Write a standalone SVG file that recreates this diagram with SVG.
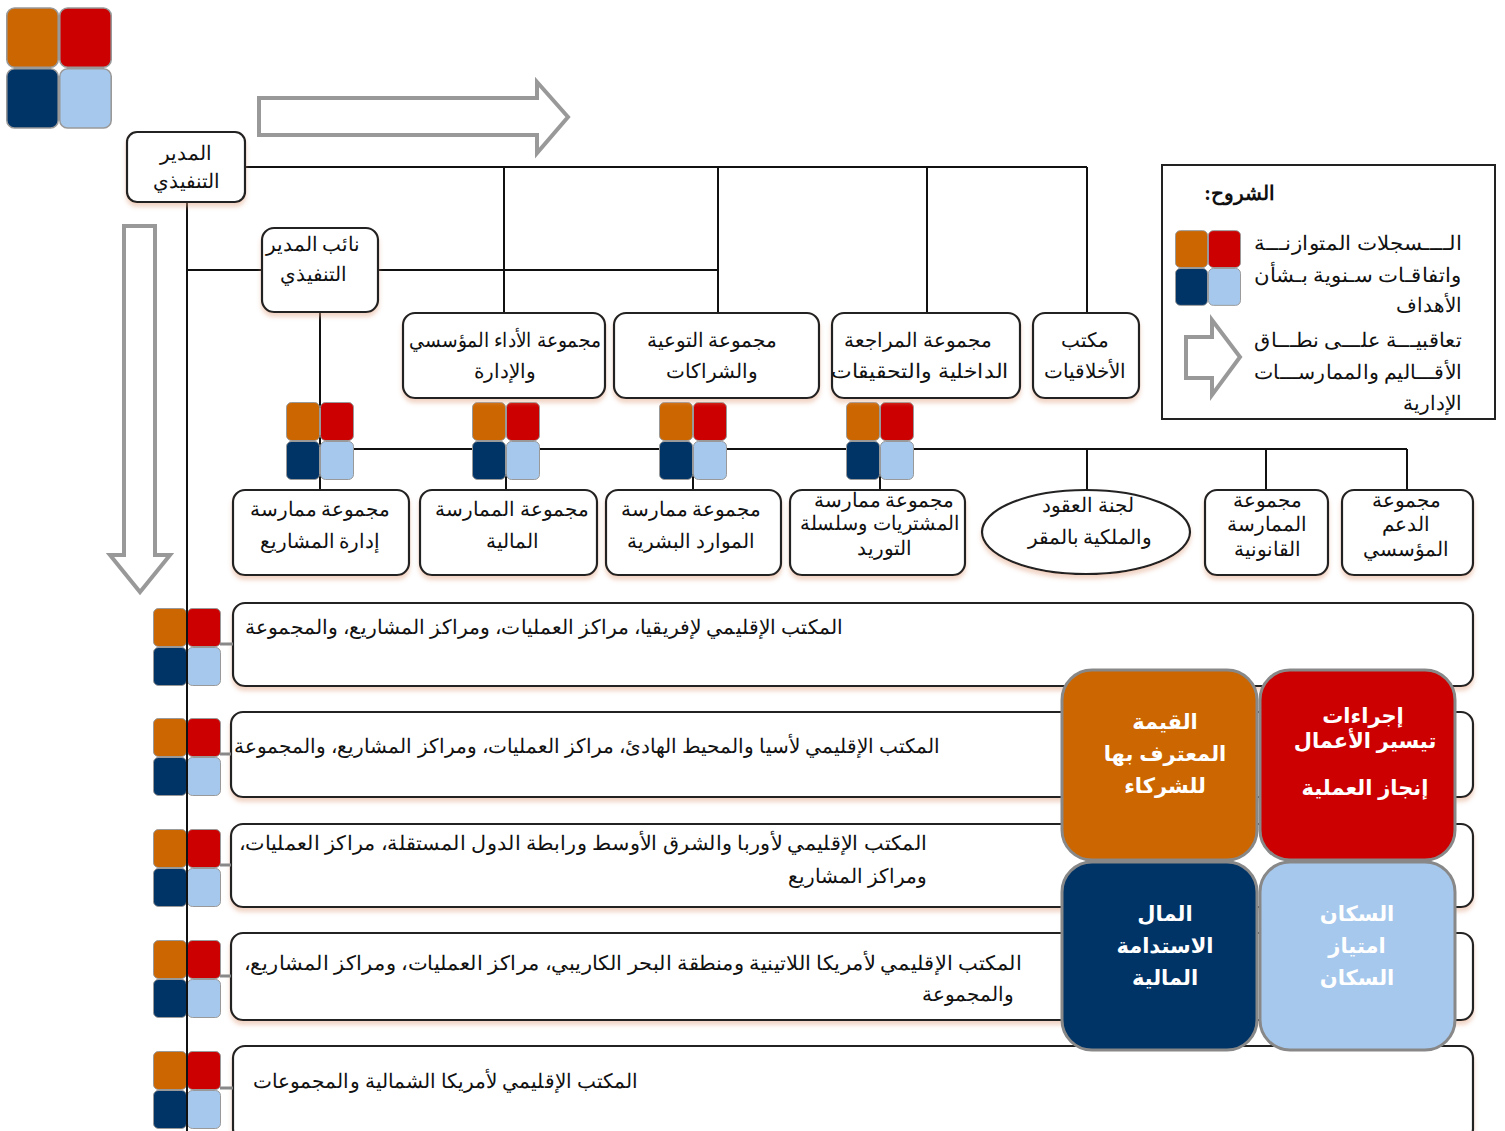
<svg xmlns="http://www.w3.org/2000/svg" xmlns:xlink="http://www.w3.org/1999/xlink" width="1505" height="1131" viewBox="0 0 1505 1131">
<style>
.bx{fill:#fff;stroke:#222;stroke-width:2.2}
.t{font-family:'Liberation Serif','DejaVu Serif',serif;font-size:19.5px;fill:#111;text-anchor:middle}
.tr{font-family:'Liberation Serif','DejaVu Serif',serif;font-size:20px;fill:#111}
.q{font-family:'Liberation Sans','DejaVu Sans',sans-serif;font-size:21px;font-weight:bold;fill:#fff;text-anchor:middle}
.ln{stroke:#111;stroke-width:2;fill:none}
.gl{stroke:#888;stroke-width:3;fill:none}
.ha{fill:#fff;stroke:#999;stroke-width:4}
</style>
<defs>
<filter id="sh" x="-10%" y="-10%" width="120%" height="130%">
<feDropShadow dx="0" dy="4" stdDeviation="2" flood-color="#e0a080" flood-opacity="0.45"/>
</filter>
<symbol id="tiles" viewBox="0 0 68 78">
<rect x="0.5" y="0.5" width="33" height="38" rx="5" fill="#CC6600" stroke="#999" stroke-width="1"/>
<rect x="34.5" y="0.5" width="33" height="38" rx="5" fill="#CC0000" stroke="#999" stroke-width="1"/>
<rect x="0.5" y="39.5" width="33" height="38" rx="5" fill="#003366" stroke="#999" stroke-width="1"/>
<rect x="34.5" y="39.5" width="33" height="38" rx="5" fill="#A6C8EC" stroke="#999" stroke-width="1"/>
</symbol>
</defs>
<rect width="1505" height="1131" fill="#fff"/>

<!-- big legend tile top-left -->
<use xlink:href="#tiles" x="6" y="4" width="106" height="128" preserveAspectRatio="none"/>

<!-- hollow arrows -->
<path class="ha" d="M259,98 L537,98 L537,82 L568,117 L537,153 L537,135 L259,135 Z"/>
<path class="ha" d="M124,226 L155,226 L155,555 L170,555 L140,592 L110,555 L124,555 Z"/>

<!-- regional boxes -->
<g id="region1"><rect class="bx" filter="url(#sh)" x="233" y="603" width="1240" height="83" rx="12"/>
<text class="tr" x="843" y="634" direction="rtl" text-anchor="start" textLength="598" lengthAdjust="spacingAndGlyphs">المكتب الإقليمي لإفريقيا، مراكز العمليات، ومراكز المشاريع، والمجموعة</text></g>
<g id="region2"><rect class="bx" filter="url(#sh)" x="231" y="712" width="1242" height="85" rx="12"/>
<text class="tr" x="940" y="753" direction="rtl" text-anchor="start" textLength="706" lengthAdjust="spacingAndGlyphs">المكتب الإقليمي لأسيا والمحيط الهادئ، مراكز العمليات، ومراكز المشاريع، والمجموعة</text></g>
<g id="region3"><rect class="bx" filter="url(#sh)" x="231" y="824" width="1242" height="83" rx="12"/>
<text class="tr" x="927" y="850" direction="rtl" text-anchor="start" textLength="688" lengthAdjust="spacingAndGlyphs">المكتب الإقليمي لأوربا والشرق الأوسط ورابطة الدول المستقلة، مراكز العمليات،</text>
<text class="tr" x="927" y="883" direction="rtl" text-anchor="start">ومراكز المشاريع</text></g>
<g id="region4"><rect class="bx" filter="url(#sh)" x="231" y="933" width="1242" height="87" rx="12"/>
<text class="tr" x="1022" y="970" direction="rtl" text-anchor="start" textLength="778" lengthAdjust="spacingAndGlyphs">المكتب الإقليمي لأمريكا اللاتينية ومنطقة البحر الكاريبي، مراكز العمليات، ومراكز المشاريع،</text>
<text class="tr" x="1014" y="1001" direction="rtl" text-anchor="start">والمجموعة</text></g>
<g id="region5"><rect class="bx" filter="url(#sh)" x="233" y="1046" width="1240" height="95" rx="12"/>
<text class="tr" x="638" y="1088" direction="rtl" text-anchor="start" textLength="385" lengthAdjust="spacingAndGlyphs">المكتب الإقليمي لأمريكا الشمالية والمجموعات</text></g>

<!-- connectors -->
<g id="connectors">
<path class="ln" d="M245,167 H1087 M504,167 V313 M718,167 V313 M927,167 V313 M1087,167 V313"/>
<path class="ln" d="M187,270 H262 M378,270 H718"/>
<path class="ln" d="M320,312 V490 M320,449 H1407 M506,449 V490 M693,449 V490 M880,449 V490 M1087,449 V490 M1266,449 V490 M1407,449 V490"/>
<path class="gl" d="M220,644 H233 M220,754 H231 M220,865 H231 M220,976 H231 M220,1088 H233"/>
<path class="ln" d="M187,202 V1131"/>
</g>

<!-- tiles on connectors -->
<use xlink:href="#tiles" x="286" y="402" width="68" height="78"/>
<use xlink:href="#tiles" x="472" y="402" width="68" height="78"/>
<use xlink:href="#tiles" x="659" y="402" width="68" height="78"/>
<use xlink:href="#tiles" x="846" y="402" width="68" height="78"/>
<use xlink:href="#tiles" x="153" y="608" width="68" height="78"/>
<use xlink:href="#tiles" x="153" y="718" width="68" height="78"/>
<use xlink:href="#tiles" x="153" y="829" width="68" height="78"/>
<use xlink:href="#tiles" x="153" y="940" width="68" height="78"/>
<use xlink:href="#tiles" x="153" y="1051" width="68" height="78"/>
<path class="ln" d="M187,600 V1131"/>

<!-- top nodes -->
<g id="exec"><rect class="bx" filter="url(#sh)" x="127" y="132" width="118" height="70" rx="10"/>
<text class="t" x="186" y="160">المدير</text><text class="t" x="186" y="188">التنفيذي</text></g>
<g id="deputy"><rect class="bx" filter="url(#sh)" x="262" y="228" width="116" height="84" rx="12"/>
<text class="t" x="313" y="251">نائب المدير</text><text class="t" x="313" y="281">التنفيذي</text></g>
<g id="perf"><rect class="bx" filter="url(#sh)" x="403" y="313" width="202" height="85" rx="12"/>
<text class="t" x="505" y="347" textLength="192" lengthAdjust="spacingAndGlyphs">مجموعة الأداء المؤسسي</text><text class="t" x="505" y="378">والإدارة</text></g>
<g id="outreach"><rect class="bx" filter="url(#sh)" x="614" y="313" width="205" height="85" rx="12"/>
<text class="t" x="712" y="347">مجموعة التوعية</text><text class="t" x="712" y="378">والشراكات</text></g>
<g id="audit"><rect class="bx" filter="url(#sh)" x="832" y="313" width="188" height="85" rx="12"/>
<text class="t" x="918" y="347">مجموعة المراجعة</text><text class="t" x="920" y="378" textLength="178" lengthAdjust="spacingAndGlyphs">الداخلية والتحقيقات</text></g>
<g id="ethics"><rect class="bx" filter="url(#sh)" x="1033" y="313" width="106" height="85" rx="12"/>
<text class="t" x="1085" y="347">مكتب</text><text class="t" x="1085" y="378">الأخلاقيات</text></g>

<!-- third row -->
<g id="pm"><rect class="bx" filter="url(#sh)" x="233" y="490" width="176" height="85" rx="12"/>
<text class="t" x="320" y="516">مجموعة ممارسة</text><text class="t" x="320" y="548">إدارة المشاريع</text></g>
<g id="fin"><rect class="bx" filter="url(#sh)" x="420" y="490" width="177" height="85" rx="12"/>
<text class="t" x="512" y="516">مجموعة الممارسة</text><text class="t" x="512" y="548">المالية</text></g>
<g id="hr"><rect class="bx" filter="url(#sh)" x="606" y="490" width="175" height="85" rx="12"/>
<text class="t" x="691" y="516">مجموعة ممارسة</text><text class="t" x="691" y="548">الموارد البشرية</text></g>
<g id="proc"><rect class="bx" filter="url(#sh)" x="790" y="490" width="175" height="85" rx="12"/>
<text class="t" x="884" y="507">مجموعة ممارسة</text><text class="t" x="880" y="530" textLength="160" lengthAdjust="spacingAndGlyphs">المشتريات وسلسلة</text><text class="t" x="884" y="555">التوريد</text></g>
<g id="contracts"><ellipse cx="1086" cy="532" rx="104" ry="42" fill="#fff" stroke="#222" stroke-width="2.2" filter="url(#sh)"/>
<text class="t" x="1088" y="512">لجنة العقود</text><text class="t" x="1090" y="544">والملكية بالمقر</text></g>
<g id="legal"><rect class="bx" filter="url(#sh)" x="1205" y="490" width="123" height="85" rx="12"/>
<text class="t" x="1267" y="507">مجموعة</text><text class="t" x="1267" y="531">الممارسة</text><text class="t" x="1267" y="556">القانونية</text></g>
<g id="support"><rect class="bx" filter="url(#sh)" x="1342" y="490" width="131" height="85" rx="12"/>
<text class="t" x="1406" y="507">مجموعة</text><text class="t" x="1406" y="531">الدعم</text><text class="t" x="1406" y="556">المؤسسي</text></g>

<!-- legend -->
<g id="legend">
<rect x="1162" y="165" width="333" height="254" fill="#fff" stroke="#222" stroke-width="2"/>
<text class="tr" x="1275" y="200" direction="rtl" text-anchor="start" font-weight="bold" font-size="21">الشروح:</text>
<use xlink:href="#tiles" x="1175" y="228" width="66" height="80" preserveAspectRatio="none"/>
<text class="tr" x="1462" y="250" direction="rtl" text-anchor="start" textLength="208" lengthAdjust="spacingAndGlyphs">الــــسجلات المتوازنـــة</text>
<text class="tr" x="1462" y="282" direction="rtl" text-anchor="start" textLength="208" lengthAdjust="spacingAndGlyphs">واتفاقـات سـنوية بـشأن</text>
<text class="tr" x="1462" y="312" direction="rtl" text-anchor="start">الأهداف</text>
<path fill="#fff" stroke="#999" stroke-width="4" d="M1186,337 L1212,337 L1212,320 L1240,357 L1212,395 L1212,378 L1186,378 Z"/>
<text class="tr" x="1462" y="347" direction="rtl" text-anchor="start" textLength="208" lengthAdjust="spacingAndGlyphs">تعاقبيـــة علـــى نطـــاق</text>
<text class="tr" x="1462" y="379" direction="rtl" text-anchor="start" textLength="208" lengthAdjust="spacingAndGlyphs">الأقـــاليم والممارســـات</text>
<text class="tr" x="1462" y="410" direction="rtl" text-anchor="start">الإدارية</text>
</g>

<!-- quadrant -->
<g id="quadrant">
<rect x="1062" y="670" width="195" height="190" rx="30" fill="#CC6600" stroke="#888" stroke-width="3"/>
<rect x="1260" y="670" width="195" height="190" rx="30" fill="#CC0000" stroke="#888" stroke-width="3"/>
<rect x="1062" y="862" width="195" height="188" rx="30" fill="#003366" stroke="#888" stroke-width="3"/>
<rect x="1260" y="862" width="195" height="188" rx="30" fill="#A6C8EC" stroke="#888" stroke-width="3"/>
<text class="q" x="1165" y="729">القيمة</text>
<text class="q" x="1165" y="761">المعترف بها</text>
<text class="q" x="1165" y="793">للشركاء</text>
<text class="q" x="1363" y="723">إجراءات</text>
<text class="q" x="1365" y="748">تيسير الأعمال</text>
<text class="q" x="1365" y="795">إنجاز العملية</text>
<text class="q" x="1165" y="921">المال</text>
<text class="q" x="1165" y="953">الاستدامة</text>
<text class="q" x="1165" y="985">المالية</text>
<text class="q" x="1357" y="921">السكان</text>
<text class="q" x="1357" y="953">امتياز</text>
<text class="q" x="1357" y="985">السكان</text>
</g>
</svg>
